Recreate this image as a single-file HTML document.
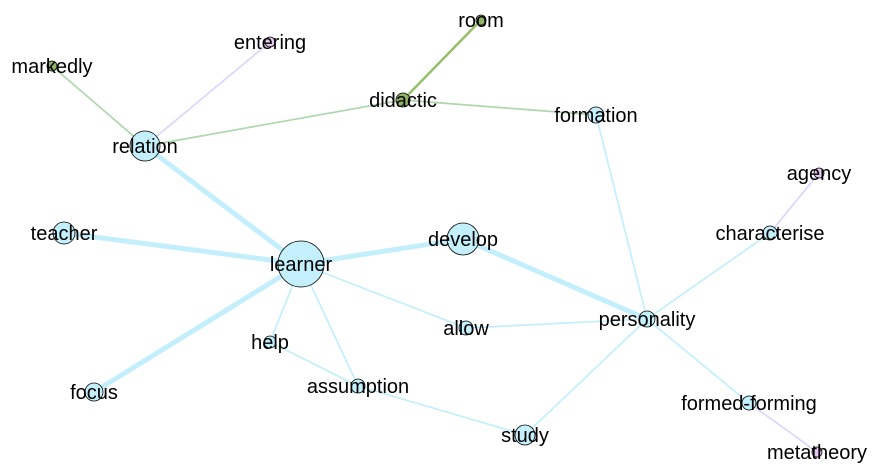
<!DOCTYPE html>
<html><head><meta charset="utf-8"><style>
html,body{margin:0;padding:0;background:#fff;}
svg{display:block;font-family:"Liberation Sans",Arial,sans-serif;}
</style></head><body>
<svg id="g" width="881" height="474" viewBox="0 0 881 474">
<g id="edges"></g><g id="nodes"></g><g id="labels"></g>
</svg>
<script>
const nodeNames=["room","didactic","markedly","entering","relation","formation","agency","characterise","teacher","learner","develop","allow","personality","help","assumption","focus","formed-forming","study","metatheory"];
const nodeX=[481,403,52,270,145,596,819,770,64,301,463,466,647,270,358,94,749,525,817];
const nodeY=[20,100,66,42,146,115,173,233,233,264,239,328,319,342,386,392,403,435,452];
const nodeSize=[5,7,5,5,15,8,5,7,11,23,16,7,8,6,7,9,7,10,5];
const nodeGroup=["g","g","g","p","b","b","p","b","b","b","b","b","b","b","b","b","b","b","p"];
const edgeFrom=["room","markedly","entering","didactic","didactic","relation","teacher","focus","learner","develop","learner","allow","learner","help","help","assumption","personality","formation","characterise","agency","personality","formed-forming"];
const edgeTo=["didactic","relation","relation","relation","formation","learner","learner","learner","develop","personality","allow","personality","assumption","learner","assumption","study","study","personality","personality","characterise","formed-forming","metatheory"];
const edgeWeight=[2.5,1.7,1.7,1.7,1.7,5,5,5,5,5,1.7,1.7,1.7,1.7,1.7,1.7,1.7,1.7,1.7,1.7,1.7,1.7];
const edgeGroup=["G","g","p","g","g","b","b","b","b","b","b","b","b","b","b","b","b","b","b","p","b","p"];
const NS="http://www.w3.org/2000/svg";
const fillC={g:"#8fb263",p:"#e6c8f2",b:"#c3f0fc"};
const edgeC={G:"#95c06a",g:"#add8ad",p:"#d8d8fc",b:"#c3effc"};
const idx=n=>nodeNames.indexOf(n);
const E=document.getElementById("edges"),N=document.getElementById("nodes"),L=document.getElementById("labels");
edgeFrom.forEach((f,i)=>{
  const a=idx(f),b=idx(edgeTo[i]);
  const dx=nodeX[b]-nodeX[a],dy=nodeY[b]-nodeY[a],d=Math.hypot(dx,dy);
  const r=nodeSize[b];
  const l=document.createElementNS(NS,"line");
  l.setAttribute("x1",nodeX[a]);l.setAttribute("y1",nodeY[a]);
  l.setAttribute("x2",nodeX[b]-dx/d*r);l.setAttribute("y2",nodeY[b]-dy/d*r);
  l.setAttribute("stroke",edgeC[edgeGroup[i]]);
  l.setAttribute("stroke-width",edgeWeight[i]);
  
  
  E.appendChild(l);
});
nodeNames.forEach((n,i)=>{
  const c=document.createElementNS(NS,"circle");
  c.setAttribute("cx",nodeX[i]);c.setAttribute("cy",nodeY[i]);c.setAttribute("r",nodeSize[i]);
  c.setAttribute("fill",fillC[nodeGroup[i]]);c.setAttribute("stroke","#000");c.setAttribute("stroke-width","0.8");
  
  
  N.appendChild(c);
  const t=document.createElementNS(NS,"text");
  t.setAttribute("x",nodeX[i]);t.setAttribute("y",nodeY[i]+7);t.setAttribute("text-anchor","middle");
  t.setAttribute("font-size","20");t.setAttribute("fill","#000");
  t.textContent=n;
  
  
  L.appendChild(t);
});
</script>
</body></html>
